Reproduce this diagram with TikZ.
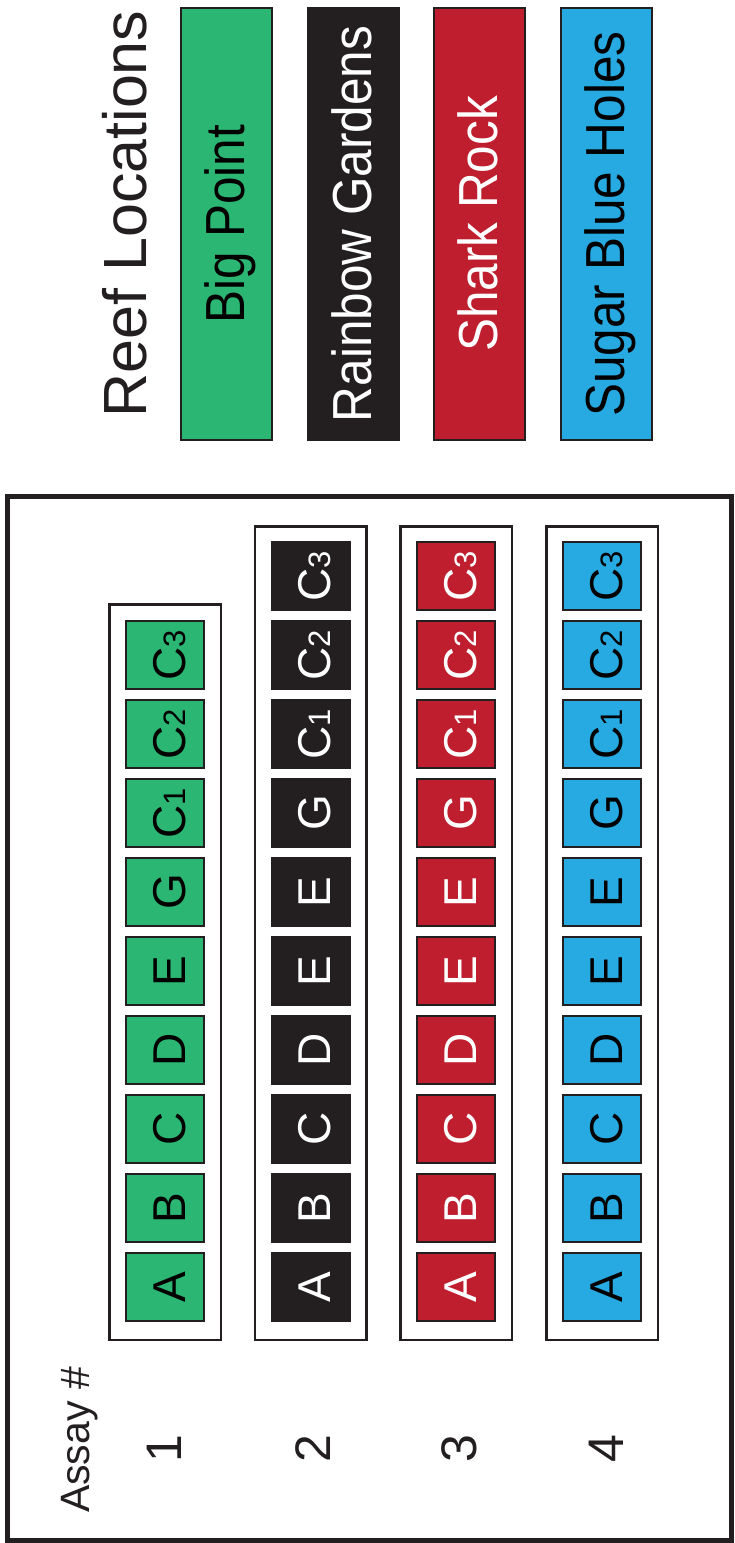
\documentclass[tikz,border=0pt]{standalone}
\usepackage{fontspec}
\setmainfont{Liberation Sans}
\usepackage{graphicx}
\definecolor{reefgreen}{HTML}{2BB673}
\definecolor{reefblack}{HTML}{231F20}
\definecolor{reefred}{HTML}{BE1E2D}
\definecolor{reefblue}{HTML}{27AAE1}
\definecolor{linec}{HTML}{231F20}
\newcommand{\csub}[1]{{\fontsize{31}{31}\selectfont #1}}
\begin{document}
\begin{tikzpicture}[x=1pt,y=-1pt,
  cellbox/.style={draw=linec, line width=2pt, rotate=90, minimum width=68pt, minimum height=78pt,
    inner sep=0pt, outer sep=0pt, font=\fontsize{46}{46}\selectfont, text height=40pt, text depth=0pt},
  rowbox/.style={draw=linec, line width=2.5pt, rotate=90, inner sep=0pt, minimum height=111.5pt},
  legbox/.style={draw=linec, line width=2pt, rotate=90, inner sep=0pt, minimum width=432pt,
    minimum height=91pt, font=\fontsize{55}{55}\selectfont, text height=40pt, text depth=4pt},
  frame/.style={draw=linec, line width=5pt},
  bigtext/.style={rotate=90, anchor=base, inner sep=0pt, text=linec}]
\fill[white] (0,0) rectangle (735,1543);
\useasboundingbox (0,0) rectangle (735,1543);

% outer frame
\node[frame, minimum width=724pt, minimum height=1043.5pt, inner sep=0pt] (frame) at (369.5,1018.25) {};

% legend
\node[bigtext, font=\fontsize{61}{61}\selectfont] (title) at (146,214) {Reef Locations};
\node[legbox, fill=reefgreen, text=black] (legA) at (226.5,224) {\scalebox{0.9}[1]{Big Point}};
\node[legbox, fill=reefblack, text=white] (legB) at (353.5,224) {\scalebox{0.9}[1]{Rainbow Gardens}};
\node[legbox, fill=reefred, text=white] (legC) at (479.5,224) {\scalebox{0.9}[1]{Shark Rock}};
\node[legbox, fill=reefblue, text=black] (legD) at (606.5,224) {\scalebox{0.9}[1]{Sugar Blue Holes}};

% assay labels
\node[bigtext, font=\fontsize{41}{41}\selectfont] (assay) at (89,1440) {Assay \#};
\node[bigtext, font=\fontsize{50}{50}\selectfont] (n1) at (181,1449) {1};
\node[bigtext, font=\fontsize{50}{50}\selectfont] (n2) at (330,1449) {2};
\node[bigtext, font=\fontsize{50}{50}\selectfont] (n3) at (476,1449) {3};
\node[bigtext, font=\fontsize{50}{50}\selectfont] (n4) at (623,1449) {4};

% row boxes
\node[rowbox, minimum width=735.5pt] (row1) at (165,972) {};
\node[rowbox, minimum width=813.5pt] (row2) at (310.7,933) {};
\node[rowbox, minimum width=813.5pt] (row3) at (456.4,933) {};
\node[rowbox, minimum width=813.5pt] (row4) at (602.1,933) {};

% row 1 cells
\foreach \lab [count=\k] in {A,B,C,D,E,G,C\csub{1},C\csub{2},C\csub{3}}
  \node[cellbox, fill=reefgreen, text=black] (c1-\k) at (165,{1287-79*(\k-1)}) {\lab};

% rows 2-4 cells
\foreach \r/\xc/\fc/\tc in {2/310.7/reefblack/white, 3/456.4/reefred/white, 4/602.1/reefblue/black}
  \foreach \lab [count=\k] in {A,B,C,D,E,E,G,C\csub{1},C\csub{2},C\csub{3}}
    \node[cellbox, fill=\fc, text=\tc] (c\r-\k) at (\xc,{1287-79*(\k-1)}) {\lab};
\end{tikzpicture}
\end{document}
